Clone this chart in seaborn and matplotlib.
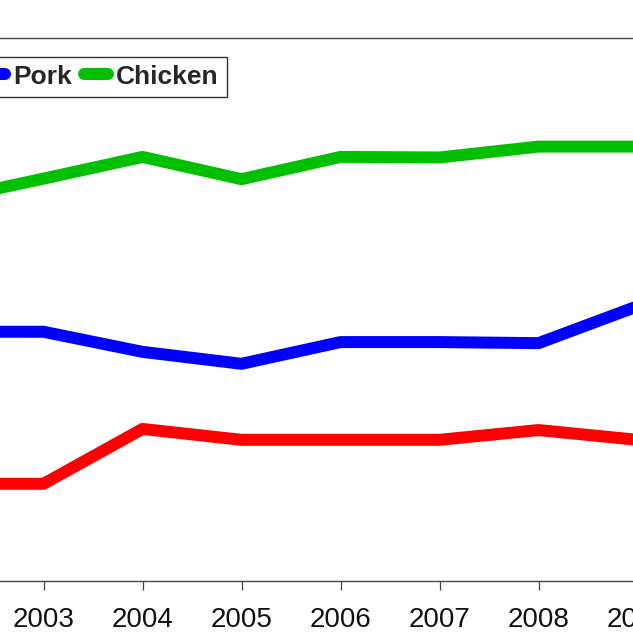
import matplotlib
matplotlib.use("Agg")
import matplotlib.pyplot as plt
import seaborn as sns
import pandas as pd

years = [2002, 2003, 2004, 2005, 2006, 2007, 2008, 2009]
beef = [17.9, 17.9, 28.0, 26.0, 26.0, 26.0, 27.8, 26.0]
pork = [45.9, 45.9, 42.2, 40.0, 44.0, 44.0, 43.8, 50.6]
chicken = [70.2, 74.1, 78.1, 74.0, 78.1, 78.0, 80.0, 80.0]
series_names = ["Beef", "Pork", "Chicken"]
series_colors = ["#FF0000", "#0000FF", "#00C000"]
tick_years = [2002, 2003, 2004, 2005, 2006, 2007, 2008, 2009, 2010]

df = pd.DataFrame({
    "year": years * 3,
    "value": beef + pork + chicken,
    "meat": ["Beef"] * len(years) + ["Pork"] * len(years) + ["Chicken"] * len(years),
})

sns.set_style("white")
plt.rcParams["font.family"] = ["Liberation Sans", "DejaVu Sans"]

W = 633
fig = plt.figure(figsize=(6.33, 6.33), dpi=100)
px_per_year = 99.0
x0 = 2001.5
left_px = 43.5 - (2003 - x0) * px_per_year
ax = fig.add_axes([left_px / W, 52 / W, 9 * px_per_year / W, 543 / W])

lw_pt = 12 * 72 / 100
sns.lineplot(data=df, x="year", y="value", hue="meat", hue_order=series_names,
             palette=dict(zip(series_names, series_colors)), linewidth=lw_pt,
             ax=ax, legend=False)
for ln in ax.get_lines():
    ln.set_solid_joinstyle("round")

ax.set_xlim(x0, x0 + 9)
ax.set_ylim(0, 100)
ax.set_xticks(tick_years)
ax.set_xticklabels([str(y) for y in tick_years])
ax.set_yticks([])
ax.set_xlabel("")
ax.set_ylabel("")
ax.tick_params(axis="x", direction="out", length=6.5, width=0.9, color="#444444",
               pad=12, labelsize=20, labelcolor="#111111", bottom=True)
for s in ["top", "bottom"]:
    ax.spines[s].set_visible(True)
    ax.spines[s].set_color("#444444")
    ax.spines[s].set_linewidth(1.0)
for s in ["left", "right"]:
    ax.spines[s].set_visible(False)

handles = [plt.Line2D([0], [0], color=c, linewidth=lw_pt, solid_capstyle="round")
           for c in series_colors]
leg = fig.legend(handles, series_names, loc="upper right",
                 bbox_to_anchor=(226.7 / W, 1 - 56.7 / W), ncol=3,
                 prop={"family": "Liberation Sans", "weight": "bold", "size": 19},
                 handlelength=0.9, handletextpad=0.32, columnspacing=0.45,
                 borderpad=0.3, borderaxespad=0, frameon=True, fancybox=False)
leg.get_frame().set_edgecolor("black")
leg.get_frame().set_linewidth(1.0)

fig.savefig("out.png", dpi=100, facecolor="white")
